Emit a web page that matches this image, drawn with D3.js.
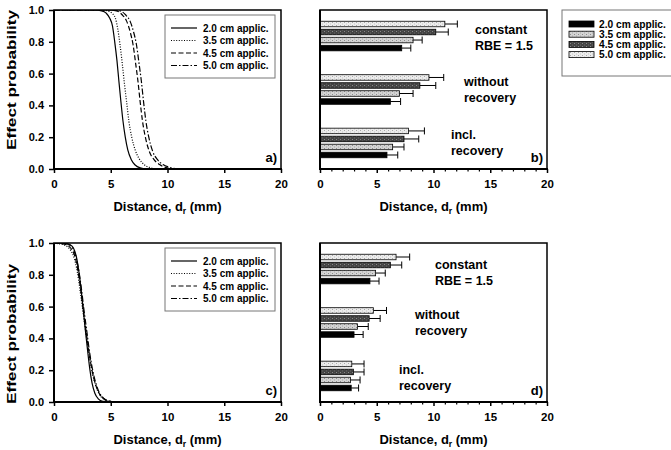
<!DOCTYPE html>
<html><head><meta charset="utf-8">
<script src="https://cdn.jsdelivr.net/npm/d3@7/dist/d3.min.js"></script>
<style>
body{margin:0;background:#fff}
text{font-family:"Liberation Sans",Arial,Helvetica,sans-serif;font-weight:bold;fill:#000}
</style>
</head><body>
<svg id="chart" width="671" height="450"></svg>
<script>
// ---------- data ----------
const applicators = ["2.0 cm applic.", "3.5 cm applic.", "4.5 cm applic.", "5.0 cm applic."];
const xTicks = [0, 5, 10, 15, 20];
const xMinorTicks = d3.range(0, 21, 1);
const yTicks = [0, 0.2, 0.4, 0.6, 0.8, 1.0];
const yTitle = "Effect probability";

// panel a: [distance (mm), effect probability]
const curveA_20 = [[0,1],[3.6,1],[4.2,0.995],[4.6,0.98],[4.9,0.95],[5.15,0.9],[5.35,0.8],[5.55,0.68],[5.72,0.55],[5.9,0.42],[6.08,0.3],[6.28,0.2],[6.5,0.12],[6.8,0.06],[7.15,0.025],[7.6,0.007],[8.2,0]];
const curveA_35 = [[0,1],[4.1,1],[4.7,0.995],[5.1,0.98],[5.4,0.95],[5.62,0.88],[5.82,0.78],[6.02,0.66],[6.2,0.54],[6.4,0.42],[6.6,0.3],[6.85,0.2],[7.15,0.12],[7.5,0.065],[7.9,0.03],[8.4,0.01],[9.1,0]];
const curveA_45 = [[0,1],[4.6,1],[5.5,0.995],[6.0,0.97],[6.4,0.93],[6.72,0.86],[6.97,0.78],[7.2,0.66],[7.4,0.55],[7.58,0.43],[7.8,0.3],[8.05,0.2],[8.4,0.11],[8.8,0.06],[9.3,0.028],[9.8,0.01],[10.4,0]];
const curveA_50 = [[0,1],[4.9,1],[5.8,0.995],[6.3,0.97],[6.7,0.93],[7.02,0.86],[7.27,0.78],[7.5,0.66],[7.7,0.55],[7.88,0.43],[8.1,0.3],[8.35,0.2],[8.7,0.11],[9.1,0.06],[9.6,0.028],[10.2,0.01],[10.9,0]];

// panel c
const curveC_20 = [[0,1],[1.0,0.998],[1.4,0.99],[1.7,0.97],[1.95,0.92],[2.15,0.84],[2.35,0.73],[2.55,0.6],[2.75,0.46],[2.95,0.33],[3.15,0.21],[3.35,0.12],[3.6,0.055],[3.9,0.02],[4.3,0.004],[4.8,0]];
const curveC_35 = [[0,0.998],[0.8,0.99],[1.2,0.975],[1.5,0.95],[1.8,0.9],[2.05,0.82],[2.3,0.7],[2.55,0.57],[2.8,0.44],[3.05,0.32],[3.3,0.21],[3.6,0.12],[3.95,0.055],[4.35,0.02],[4.9,0.005],[5.6,0]];
const curveC_45 = [[0,0.999],[0.9,0.993],[1.3,0.98],[1.6,0.955],[1.9,0.9],[2.12,0.82],[2.35,0.71],[2.58,0.58],[2.82,0.45],[3.07,0.32],[3.32,0.21],[3.62,0.12],[3.95,0.058],[4.35,0.022],[4.9,0.005],[5.5,0]];
const curveC_50 = [[0,1],[1.0,0.996],[1.4,0.985],[1.7,0.96],[1.98,0.9],[2.2,0.82],[2.42,0.71],[2.64,0.58],[2.88,0.45],[3.12,0.32],[3.38,0.21],[3.68,0.12],[4.0,0.058],[4.4,0.022],[4.9,0.005],[5.5,0]];

// bar groups
const groups = ["constant", "without", "incl"];
const groupLabels = [["constant", "RBE = 1.5"], ["without", "recovery"], ["incl.", "recovery"]];

// panel b: distance (mm) per group, and upper end of error bar
const barsB_20 = [7.2, 6.2, 5.9];   const errB_20 = [8.0, 7.1, 6.85];
const barsB_35 = [8.2, 7.0, 6.4];   const errB_35 = [9.0, 8.2, 7.4];
const barsB_45 = [10.2, 8.8, 7.4];  const errB_45 = [11.3, 10.2, 8.7];
const barsB_50 = [11.0, 9.6, 7.8];  const errB_50 = [12.1, 10.9, 9.2];

// panel d
const barsD_20 = [4.4, 3.0, 2.75];  const errD_20 = [5.2, 3.8, 3.4];
const barsD_35 = [4.9, 3.3, 2.68];  const errD_35 = [5.75, 4.25, 3.53];
const barsD_45 = [6.2, 4.33, 2.94]; const errD_45 = [7.2, 5.3, 3.88];
const barsD_50 = [6.7, 4.7, 2.8];   const errD_50 = [7.9, 5.86, 3.88];

// ---------- drawing ----------
const svg = d3.select("#chart");
const W = 227, H = 159;
const x = d3.scaleLinear().domain([0, 20]).range([0, W]);
const y = d3.scaleLinear().domain([0, 1]).range([H, 0]);

const defs = svg.append("defs");
function pat(id, base, dot, alt) {
  const p = defs.append("pattern").attr("id", id).attr("width", 4).attr("height", 3)
    .attr("patternUnits", "userSpaceOnUse");
  p.append("rect").attr("width", 4).attr("height", 3).attr("fill", base);
  p.append("rect").attr("x", 0).attr("y", 0).attr("width", 1).attr("height", 1).attr("fill", dot);
  p.append("rect").attr("x", 2).attr("y", 1.5).attr("width", 1).attr("height", 1).attr("fill", alt);
}
pat("p35", "#d4d4d4", "#8c8c8c", "#a8a8a8");
pat("p45", "#444", "#8a8a8a", "#6a6a6a");
pat("p50", "#ececec", "#a8a8a8", "#c4c4c4");
const barFill = {"2.0 cm applic.": "#000", "3.5 cm applic.": "url(#p35)", "4.5 cm applic.": "url(#p45)", "5.0 cm applic.": "url(#p50)"};
const dashes = {"2.0 cm applic.": null, "3.5 cm applic.": "1,1.6", "4.5 cm applic.": "5,2.5", "5.0 cm applic.": "6,2,1.5,2"};

function frame(g, minor) {
  const xa = g.append("g").attr("transform", `translate(0,${H})`)
    .call(d3.axisBottom(x).tickValues(xTicks).tickSize(4).tickPadding(7).tickFormat(d3.format("d")));
  xa.select(".domain").remove();
  xa.selectAll("line").attr("stroke-width", 1.5);
  xa.selectAll("text").attr("font-size", 11.5);
  if (minor) {
    g.append("g").attr("transform", `translate(0,${H})`)
      .call(d3.axisBottom(x).tickValues(xMinorTicks.filter(v => v % 5)).tickSize(2.5).tickFormat(""))
      .call(s => { s.select(".domain").remove(); s.selectAll("line").attr("stroke-width", 1.2); });
  }
  g.append("rect").attr("width", W).attr("height", H).attr("fill", "none")
    .attr("stroke", "#000").attr("stroke-width", 1.5);
  g.append("line").attr("x1", 0).attr("x2", 0).attr("y1", 0).attr("y2", H + 1).attr("stroke", "#000").attr("stroke-width", 2);
  g.append("line").attr("x1", -1).attr("x2", W + 1).attr("y1", H).attr("y2", H).attr("stroke", "#000").attr("stroke-width", 2);
  const t = g.append("text").attr("x", W / 2).attr("y", H + 42).attr("text-anchor", "middle").attr("font-size", 13);
  t.append("tspan").text("Distance, d");
  t.append("tspan").attr("font-size", 8.5).attr("dy", 3).text("r");
  t.append("tspan").attr("dy", -3).text(" (mm)");
}

function tag(g, s) {
  g.append("text").attr("x", W - 4).attr("y", H - 7).attr("text-anchor", "end").attr("font-size", 13).text(s);
}

function curvePanel(px, py, curves, label, legY, titleCY) {
  const g = svg.append("g").attr("transform", `translate(${px},${py})`);
  const clipId = "clip" + label[0];
  defs.append("clipPath").attr("id", clipId).append("rect").attr("width", W).attr("height", H);
  const line = d3.line().x(d => x(d[0])).y(d => y(d[1])).curve(d3.curveMonotoneX);
  const cg = g.append("g").attr("clip-path", `url(#${clipId})`);
  applicators.forEach((a, i) => {
    cg.append("path").attr("d", line(curves[i])).attr("fill", "none").attr("stroke", "#000")
      .attr("stroke-width", 1.2).attr("stroke-dasharray", dashes[a]);
  });
  const ya = g.append("g").call(d3.axisLeft(y).tickValues(yTicks).tickSize(5).tickPadding(5).tickFormat(d3.format(".1f")));
  ya.select(".domain").remove();
  ya.selectAll("line").attr("stroke-width", 1.5);
  ya.selectAll("text").attr("font-size", 11);
  frame(g, false);
  tag(g, label);
  // legend
  const lg = g.append("g").attr("transform", `translate(111,${legY})`);
  lg.append("rect").attr("width", 110).attr("height", 63).attr("fill", "#fff").attr("stroke", "#777").attr("stroke-width", 1);
  applicators.forEach((a, i) => {
    const yy = 13 + i * 12.5;
    lg.append("line").attr("x1", 6).attr("x2", 32).attr("y1", yy).attr("y2", yy).attr("stroke", "#000")
      .attr("stroke-width", 1.2).attr("stroke-dasharray", dashes[a]);
    lg.append("text").attr("x", 38).attr("y", yy + 3.5).attr("font-size", 10).text(a);
  });
  // y title
  svg.append("text").attr("transform", `translate(${px - 38},${titleCY}) rotate(-90)`)
    .attr("text-anchor", "middle").attr("font-size", 13).attr("textLength", 140)
    .attr("lengthAdjust", "spacingAndGlyphs").text(yTitle);
}

function barPanel(px, py, vals, errs, label, labelPos) {
  const g = svg.append("g").attr("transform", `translate(${px},${py})`);
  const yg = d3.scaleBand().domain(groups).range([0, H]).paddingInner(0.4).paddingOuter(0.187);
  const ys = d3.scaleBand().domain(applicators.slice().reverse()).range([0, yg.bandwidth()])
    .paddingInner(0.31).paddingOuter(0.155);
  applicators.forEach((a, i) => {
    groups.forEach((gr, j) => {
      const y0 = yg(gr) + ys(a), bh = ys.bandwidth(), cy = y0 + bh / 2;
      g.append("line").attr("x1", x(vals[i][j])).attr("x2", x(errs[i][j])).attr("y1", cy).attr("y2", cy)
        .attr("stroke", "#000").attr("stroke-width", 1);
      g.append("line").attr("x1", x(errs[i][j])).attr("x2", x(errs[i][j])).attr("y1", cy - 3.5).attr("y2", cy + 3.5)
        .attr("stroke", "#000").attr("stroke-width", 1);
      g.append("rect").attr("x", x(0)).attr("y", y0).attr("width", x(vals[i][j]) - x(0)).attr("height", bh)
        .attr("fill", barFill[a]).attr("stroke", "#000").attr("stroke-width", 0.8);
    });
  });
  frame(g, true);
  tag(g, label);
  groups.forEach((gr, j) => {
    const [lx, ly] = labelPos[j];
    groupLabels[j].forEach((s, k) => {
      g.append("text").attr("x", lx).attr("y", ly + k * 15.5).attr("font-size", 12.5).text(s);
    });
  });
}

curvePanel(54, 10, [curveA_20, curveA_35, curveA_45, curveA_50], "a)", 5, 80);
curvePanel(54, 243, [curveC_20, curveC_35, curveC_45, curveC_50], "c)", 5, 334);
barPanel(320, 10, [barsB_20, barsB_35, barsB_45, barsB_50], [errB_20, errB_35, errB_45, errB_50], "b)",
  [[155, 24], [144, 76], [131, 129]]);
barPanel(320, 243, [barsD_20, barsD_35, barsD_45, barsD_50], [errD_20, errD_35, errD_45, errD_50], "d)",
  [[115, 26], [95, 76], [79, 131]]);

// right-hand legend for bar panels
const rl = svg.append("g").attr("transform", "translate(562,10)");
rl.append("rect").attr("width", 120).attr("height", 66).attr("fill", "#fff").attr("stroke", "#777").attr("stroke-width", 1);
applicators.forEach((a, i) => {
  const yy = 14 + i * 10.2;
  rl.append("rect").attr("x", 7).attr("y", yy - 3).attr("width", 25).attr("height", 6)
    .attr("fill", barFill[a]).attr("stroke", "#000").attr("stroke-width", 0.8);
  rl.append("text").attr("x", 37).attr("y", yy + 3.6).attr("font-size", 10.2).text(a);
});
</script>
</body></html>
